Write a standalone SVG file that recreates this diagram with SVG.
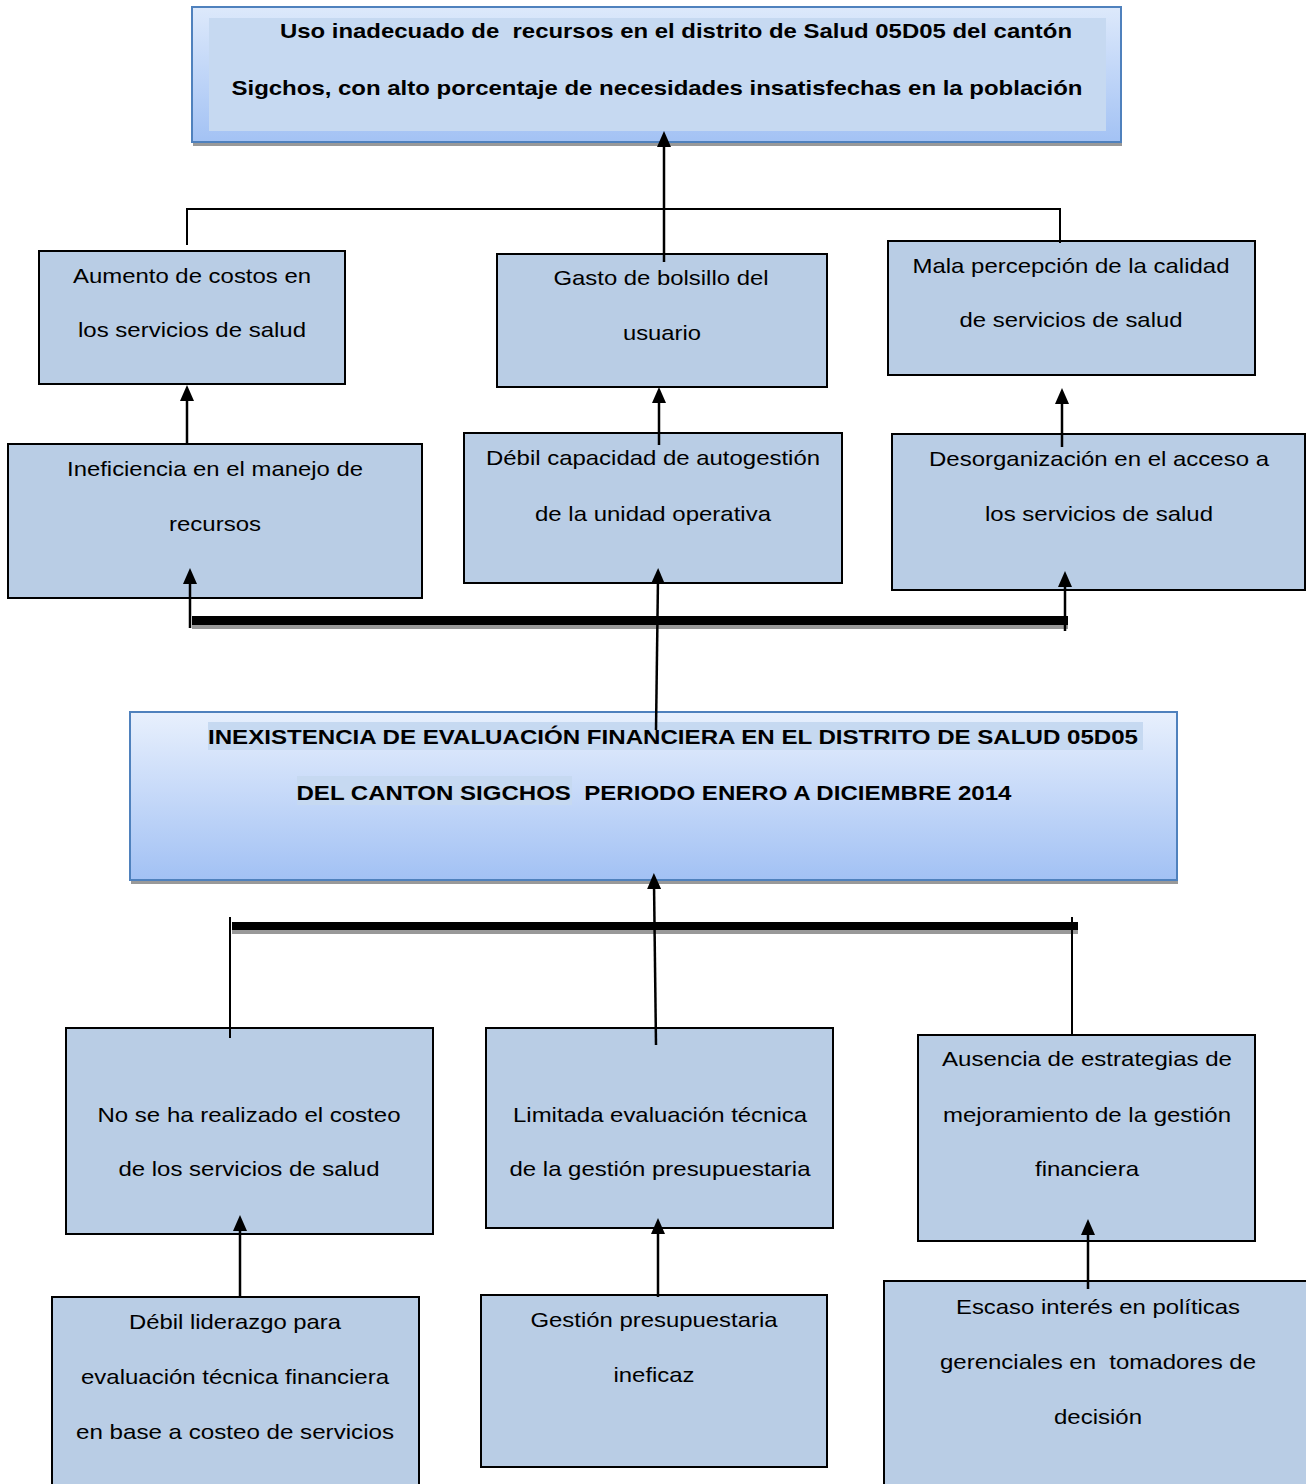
<svg xmlns="http://www.w3.org/2000/svg" width="1306" height="1484" viewBox="0 0 1306 1484">
<style>
.box{fill:#b9cde5;stroke:#000;stroke-width:2}
.t{font-family:"Liberation Sans",Arial,sans-serif;font-size:21px;fill:#000;text-anchor:middle;white-space:pre}
.b{font-family:"Liberation Sans",Arial,sans-serif;font-size:21px;font-weight:bold;fill:#000;text-anchor:middle;white-space:pre}
.ln{stroke:#000;stroke-width:2;fill:none}
.ar{stroke:#000;stroke-width:2.5;fill:none;marker-end:url(#ah)}
.bar{fill:#000}
.sh{fill:#999}
</style>
<defs>
<linearGradient id="g1" x1="0" y1="0" x2="0" y2="1">
<stop offset="0" stop-color="#dde9fb"/>
<stop offset="1" stop-color="#a3c2f4"/>
</linearGradient>
<linearGradient id="g2" x1="0" y1="0" x2="0" y2="1">
<stop offset="0" stop-color="#e8f0fd"/>
<stop offset="1" stop-color="#a2c1f4"/>
</linearGradient>
<marker id="ah" viewBox="0 0 16 14" markerWidth="16" markerHeight="14" refX="6" refY="7" orient="auto" markerUnits="userSpaceOnUse">
<path d="M0,0 L16,7 L0,14 z" fill="#000"/>
</marker>
</defs>
<rect width="1306" height="1484" fill="#fff"/>

<g id="effect-main">
<rect x="193" y="11" width="929" height="135" class="sh"/>
<rect x="192" y="7" width="929" height="135" fill="url(#g1)" stroke="#4f81bd" stroke-width="2"/>
<rect x="209" y="18" width="897" height="113" fill="#c6d9f1"/>
<text x="676" y="38" class="b" textLength="792" lengthAdjust="spacingAndGlyphs" xml:space="preserve">Uso inadecuado de  recursos en el distrito de Salud 05D05 del cantón</text>
<text x="657" y="95" class="b" textLength="851" lengthAdjust="spacingAndGlyphs">Sigchos, con alto porcentaje de necesidades insatisfechas en la población</text>
</g>

<g id="e1">
<rect x="39" y="251" width="306" height="133" class="box"/>
<text x="192" y="283" class="t" textLength="238" lengthAdjust="spacingAndGlyphs">Aumento de costos en</text>
<text x="192" y="337" class="t" textLength="228" lengthAdjust="spacingAndGlyphs">los servicios de salud</text>
</g>
<g id="e2">
<rect x="497" y="254" width="330" height="133" class="box"/>
<text x="661" y="285" class="t" textLength="215" lengthAdjust="spacingAndGlyphs">Gasto de bolsillo del</text>
<text x="662" y="340" class="t" textLength="78" lengthAdjust="spacingAndGlyphs">usuario</text>
</g>
<g id="e3">
<rect x="888" y="241" width="367" height="134" class="box"/>
<text x="1071" y="273" class="t" textLength="317" lengthAdjust="spacingAndGlyphs">Mala percepción de la calidad</text>
<text x="1071" y="327" class="t" textLength="223" lengthAdjust="spacingAndGlyphs">de servicios de salud</text>
</g>

<g id="c1">
<rect x="8" y="444" width="414" height="154" class="box"/>
<text x="215" y="476" class="t" textLength="296" lengthAdjust="spacingAndGlyphs">Ineficiencia en el manejo de</text>
<text x="215" y="531" class="t" textLength="92" lengthAdjust="spacingAndGlyphs">recursos</text>
</g>
<g id="c2">
<rect x="464" y="433" width="378" height="150" class="box"/>
<text x="653" y="465" class="t" textLength="334" lengthAdjust="spacingAndGlyphs">Débil capacidad de autogestión</text>
<text x="653" y="521" class="t" textLength="236" lengthAdjust="spacingAndGlyphs">de la unidad operativa</text>
</g>
<g id="c3">
<rect x="892" y="434" width="413" height="156" class="box"/>
<text x="1099" y="466" class="t" textLength="340" lengthAdjust="spacingAndGlyphs">Desorganización en el acceso a</text>
<text x="1099" y="521" class="t" textLength="228" lengthAdjust="spacingAndGlyphs">los servicios de salud</text>
</g>

<g id="problem">
<rect x="131" y="716" width="1047" height="168" class="sh"/>
<rect x="130" y="712" width="1047" height="168" fill="url(#g2)" stroke="#4f81bd" stroke-width="2"/>
<rect x="208" y="722" width="935" height="28" fill="#c6d9f1"/>
<rect x="297" y="776" width="275" height="29" fill="#c6d9f1"/>
<text x="673" y="744" class="b" font-size="22" textLength="930" lengthAdjust="spacingAndGlyphs">INEXISTENCIA DE EVALUACIÓN FINANCIERA EN EL DISTRITO DE SALUD 05D05</text>
<text x="654" y="800" class="b" font-size="22" textLength="715" lengthAdjust="spacingAndGlyphs" xml:space="preserve">DEL CANTON SIGCHOS  PERIODO ENERO A DICIEMBRE 2014</text>
</g>

<g id="k1">
<rect x="66" y="1028" width="367" height="206" class="box"/>
<text x="249" y="1122" class="t" textLength="303" lengthAdjust="spacingAndGlyphs">No se ha realizado el costeo</text>
<text x="249" y="1176" class="t" textLength="261" lengthAdjust="spacingAndGlyphs">de los servicios de salud</text>
</g>
<g id="k2">
<rect x="486" y="1028" width="347" height="200" class="box"/>
<text x="660" y="1122" class="t" textLength="294" lengthAdjust="spacingAndGlyphs">Limitada evaluación técnica</text>
<text x="660" y="1176" class="t" textLength="301" lengthAdjust="spacingAndGlyphs">de la gestión presupuestaria</text>
</g>
<g id="k3">
<rect x="918" y="1035" width="337" height="206" class="box"/>
<text x="1087" y="1066" class="t" textLength="290" lengthAdjust="spacingAndGlyphs">Ausencia de estrategias de</text>
<text x="1087" y="1122" class="t" textLength="288" lengthAdjust="spacingAndGlyphs">mejoramiento de la gestión</text>
<text x="1087" y="1176" class="t" textLength="104" lengthAdjust="spacingAndGlyphs">financiera</text>
</g>

<g id="r1">
<rect x="52" y="1297" width="367" height="200" class="box"/>
<text x="235" y="1329" class="t" textLength="212" lengthAdjust="spacingAndGlyphs">Débil liderazgo para</text>
<text x="235" y="1384" class="t" textLength="308" lengthAdjust="spacingAndGlyphs">evaluación técnica financiera</text>
<text x="235" y="1439" class="t" textLength="318" lengthAdjust="spacingAndGlyphs">en base a costeo de servicios</text>
</g>
<g id="r2">
<rect x="481" y="1295" width="346" height="172" class="box"/>
<text x="654" y="1327" class="t" textLength="247" lengthAdjust="spacingAndGlyphs">Gestión presupuestaria</text>
<text x="654" y="1382" class="t" textLength="81" lengthAdjust="spacingAndGlyphs">ineficaz</text>
</g>
<g id="r3">
<rect x="884" y="1281" width="440" height="220" class="box"/>
<text x="1098" y="1314" class="t" textLength="284" lengthAdjust="spacingAndGlyphs">Escaso interés en políticas</text>
<text x="1098" y="1369" class="t" textLength="316" lengthAdjust="spacingAndGlyphs" xml:space="preserve">gerenciales en  tomadores de</text>
<text x="1098" y="1424" class="t" textLength="88" lengthAdjust="spacingAndGlyphs">decisión</text>
</g>

<g id="connectors">
<polyline points="187,245 187,209 1060,209 1060,243" class="ln"/>
<rect x="192" y="625" width="876" height="4" class="sh"/>
<rect x="192" y="616" width="876" height="9" class="bar"/>
<rect x="232" y="930" width="846" height="4" class="sh"/>
<rect x="232" y="922" width="846" height="8" class="bar"/>
<line x1="230" y1="917" x2="230" y2="1038" class="ln"/>
<line x1="1072" y1="917" x2="1072" y2="1035" class="ln"/>
<line x1="664" y1="262" x2="664" y2="141" class="ar"/>
<line x1="187" y1="444" x2="187" y2="395" class="ar"/>
<line x1="659" y1="445" x2="659" y2="397" class="ar"/>
<line x1="1062" y1="447" x2="1062" y2="398" class="ar"/>
<line x1="190" y1="628" x2="190" y2="578" class="ar"/>
<line x1="656" y1="730" x2="658" y2="578" class="ar"/>
<line x1="1065" y1="631" x2="1065" y2="581" class="ar"/>
<line x1="656" y1="1045" x2="654" y2="883" class="ar"/>
<line x1="240" y1="1296" x2="240" y2="1225" class="ar"/>
<line x1="658" y1="1297" x2="658" y2="1228" class="ar"/>
<line x1="1088" y1="1289" x2="1088" y2="1229" class="ar"/>
</g>
</svg>
